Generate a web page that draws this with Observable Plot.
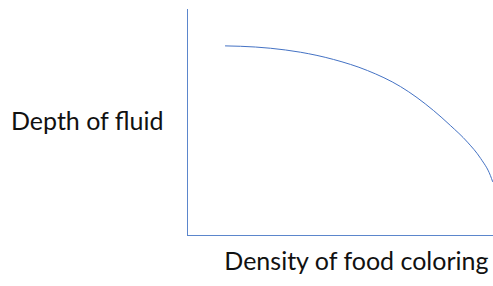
<!DOCTYPE html>
<html>
<head>
<meta charset="utf-8">
<script src="https://cdn.jsdelivr.net/npm/d3@7"></script>
<script src="https://cdn.jsdelivr.net/npm/@observablehq/plot@0.6"></script>
<style>
  html, body { margin: 0; padding: 0; background: #fff; }
  #chart svg { display: block; }
</style>
</head>
<body>
<div id="chart"></div>
<script>
const density = [12.4, 22.2, 32.0, 36.9, 47.7, 58.8, 69.6, 80.4, 85.9, 91.5, 95.8, 99.0, 99.7];
const depth   = [83.9, 83.4, 82.1, 81.1, 77.9, 73.0, 65.9, 55.3, 48.7, 41.3, 34.1, 26.5, 23.9];
const yLabel = "Depth of fluid";
const xLabel = "Density of food coloring";

const data = density.map((d, i) => ({x: d, y: depth[i]}));
const font = "Lato, 'Open Sans', sans-serif";

const chart = Plot.plot({
  width: 493,
  height: 286,
  marginLeft: 187,
  marginRight: 0,
  marginTop: 9,
  marginBottom: 51,
  x: {domain: [0, 100], axis: null},
  y: {domain: [0, 100], axis: null},
  style: {fontFamily: font, background: "#fff", overflow: "visible"},
  marks: [
    Plot.ruleX([0], {stroke: "#5B86CC", strokeWidth: 1}),
    Plot.ruleY([0], {stroke: "#5B86CC", strokeWidth: 1}),
    Plot.line(data, {x: "x", y: "y", curve: "monotone-x", stroke: "#4472C4", strokeWidth: 1}),
    Plot.text([yLabel], {text: d => d, frameAnchor: "left", textAnchor: "end", dx: -24, dy: -1, fontSize: 25, fill: "#111"}),
    Plot.text([xLabel], {text: d => d, frameAnchor: "bottom-right", textAnchor: "end", dx: -5, dy: 34, fontSize: 25, fill: "#111"})
  ]
});
document.getElementById("chart").appendChild(chart);
</script>
</body>
</html>
